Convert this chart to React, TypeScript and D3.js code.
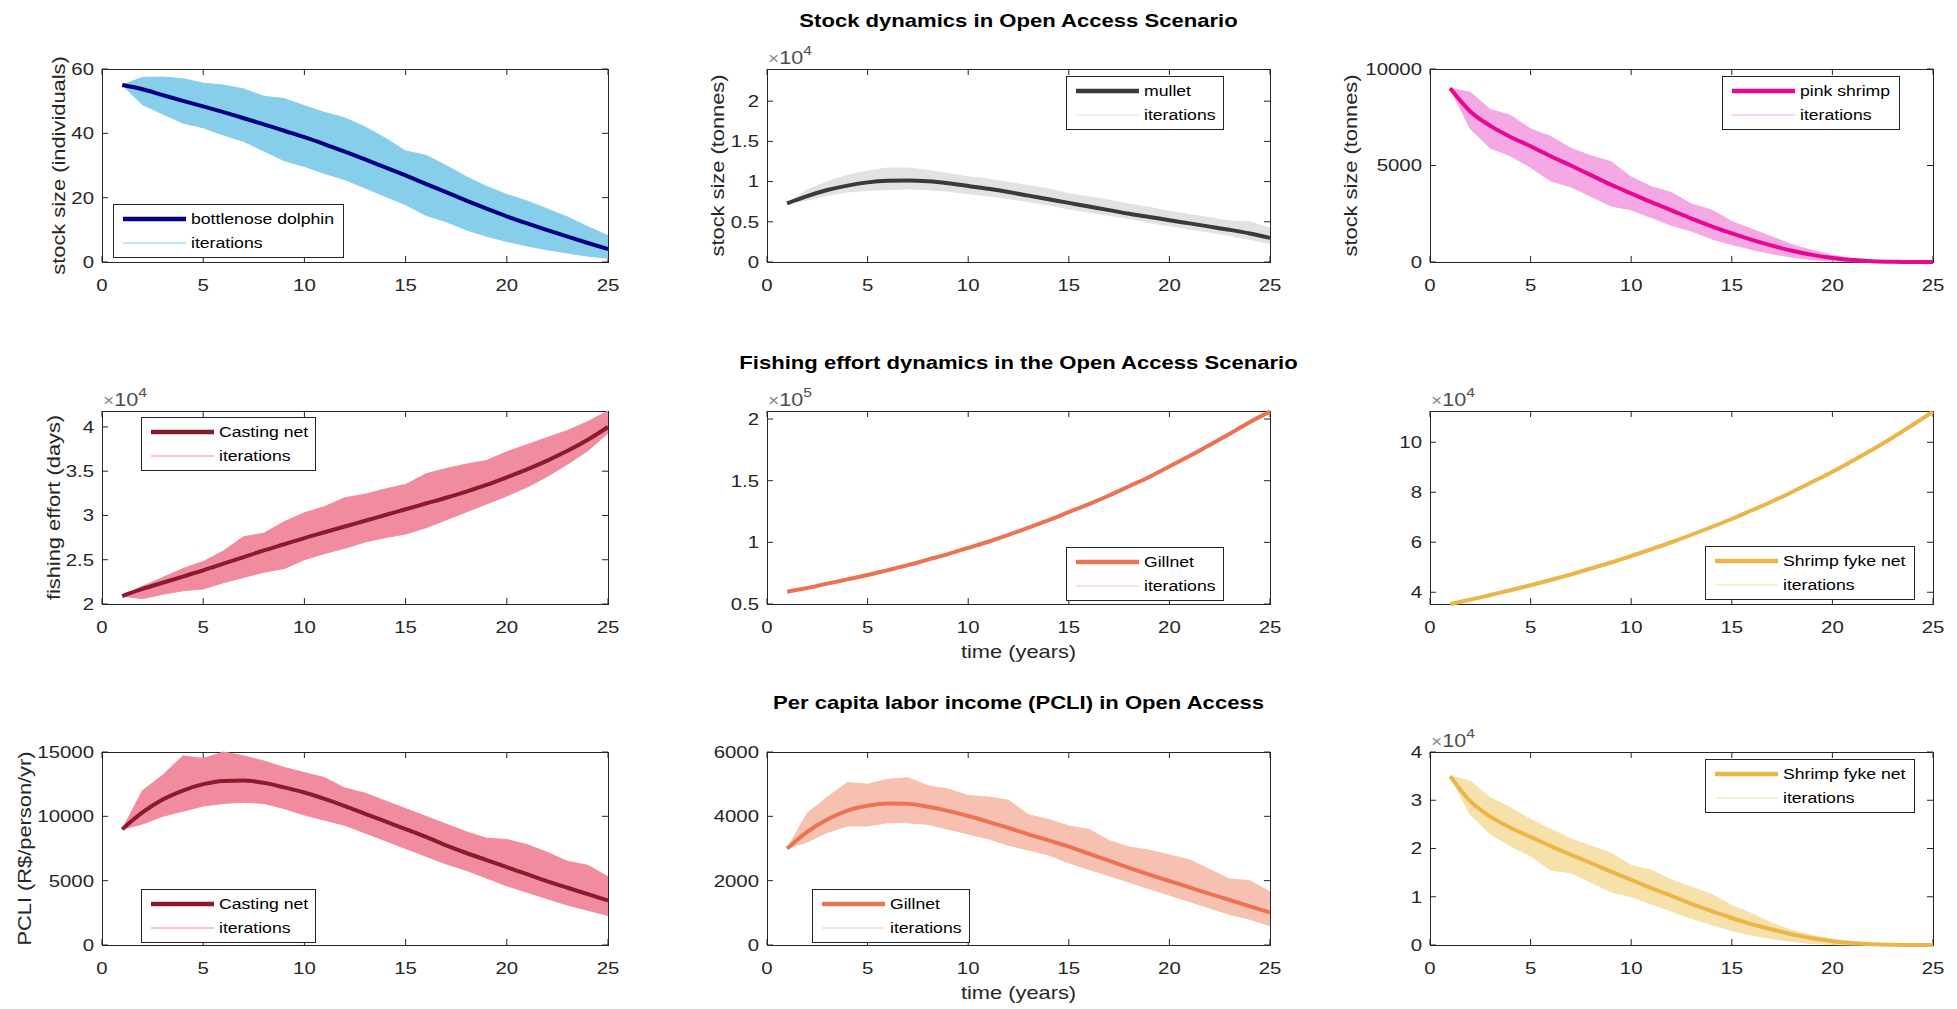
import React from 'react';
import * as d3 from 'd3';

// x values (years) and axis ticks
const YEARS = [1, 2, 3, 4, 5, 6, 7, 8, 9, 10, 11, 12, 13, 14, 15, 16, 17, 18, 19, 20, 21, 22, 23, 24, 25];
const X_TICKS = [0, 5, 10, 15, 20, 25];

// stock: bottlenose dolphin (individuals)
const DOLPHIN_MEAN = [55, 53.7, 51.9, 50.1, 48.4, 46.6, 44.7, 42.8, 40.8, 38.8, 36.6, 34.3, 31.9, 29.4, 26.9, 24.3, 21.7, 19.1, 16.6, 14.2, 12.0, 9.9, 7.9, 5.9, 4.0];
const DOLPHIN_HI = [55, 57.4, 57.5, 57.0, 55.6, 55.0, 53.8, 51.5, 50.8, 48.6, 46.5, 44.8, 42.0, 38.5, 34.5, 33.2, 30.0, 26.5, 23.5, 21.0, 19.0, 16.5, 14.0, 11.0, 8.2];
const DOLPHIN_LO = [55, 48.9, 46.0, 43.2, 41.7, 39.5, 37.5, 34.5, 31.5, 29.7, 27.5, 25.6, 23.0, 20.4, 17.8, 14.5, 12.5, 10.0, 8.0, 6.4, 5.0, 3.8, 2.8, 1.8, 1.2];

// stock: mullet (tonnes)
const MULLET_MEAN = [7300, 8200, 8950, 9500, 9900, 10100, 10150, 10050, 9800, 9450, 9100, 8700, 8250, 7800, 7350, 6900, 6450, 6000, 5600, 5200, 4800, 4400, 4000, 3550, 3000];
const MULLET_HI = [7300, 9000, 10000, 10800, 11300, 11700, 11700, 11400, 11000, 10600, 10300, 9900, 9500, 9100, 8500, 8100, 7700, 7200, 6800, 6300, 5900, 5500, 5100, 5000, 4200];
const MULLET_LO = [7300, 7700, 8300, 8700, 8900, 9000, 9100, 9000, 8800, 8500, 8200, 7900, 7500, 7100, 6600, 6200, 5800, 5400, 4900, 4500, 4100, 3700, 3300, 2800, 2300];

// stock: pink shrimp (tonnes)
const SHRIMP_MEAN = [9000, 7800, 7050, 6480, 6000, 5480, 5000, 4500, 4000, 3550, 3100, 2680, 2250, 1850, 1480, 1150, 850, 580, 370, 210, 100, 40, 10, 0, 0];
const SHRIMP_HI = [9000, 8800, 7900, 7600, 6900, 6500, 5900, 5500, 5200, 4400, 3900, 3600, 3000, 2700, 2100, 1700, 1300, 900, 600, 350, 180, 80, 30, 10, 0];
const SHRIMP_LO = [9000, 6900, 5900, 5500, 4900, 4200, 3900, 3400, 2900, 2700, 2300, 1900, 1600, 1200, 900, 650, 420, 250, 120, 50, 15, 0, 0, 0, 0];

// effort (days)
const CAST_EFFORT_MEAN = [20900, 21700, 22400, 23100, 23800, 24550, 25300, 26050, 26750, 27450, 28100, 28750, 29400, 30050, 30700, 31350, 32000, 32700, 33450, 34300, 35200, 36200, 37300, 38550, 40000];
const CAST_EFFORT_HI = [20900, 22000, 23000, 24000, 24800, 26000, 27600, 28000, 29300, 30300, 31000, 32000, 32400, 33000, 33500, 34700, 35300, 35800, 36200, 37200, 38000, 38800, 39600, 40600, 41800];
const CAST_EFFORT_LO = [20900, 20600, 21100, 21500, 21700, 22400, 23000, 23600, 24000, 25000, 25700, 26300, 27000, 27500, 27900, 28600, 29500, 30400, 31300, 32200, 33200, 34400, 35800, 37300, 39300];
const GILL_EFFORT_MEAN = [60000, 63000, 66500, 70000, 73500, 77500, 81500, 86000, 90500, 95500, 100500, 106000, 112000, 118000, 124500, 131000, 138000, 145500, 153000, 161500, 170000, 179000, 188000, 197500, 206000];
const FYKE_EFFORT_MEAN = [35300, 37000, 38900, 40800, 42800, 44900, 47100, 49500, 51900, 54500, 57200, 60000, 63000, 66100, 69300, 72800, 76300, 80100, 84100, 88200, 92600, 97100, 101900, 107000, 112200];

// per capita labor income (R$/person/yr)
const CAST_PCLI_MEAN = [9000, 10300, 11300, 12000, 12500, 12750, 12780, 12600, 12250, 11850, 11350, 10800, 10200, 9600, 9000, 8400, 7750, 7150, 6600, 6050, 5500, 4950, 4450, 3950, 3460];
const CAST_PCLI_HI = [9000, 12000, 13200, 14700, 14500, 15000, 14700, 14300, 13800, 13400, 13000, 12200, 11800, 11200, 10600, 10000, 9400, 8800, 8300, 8200, 7800, 7200, 6500, 6200, 5300];
const CAST_PCLI_LO = [9000, 9400, 10000, 10400, 10800, 11000, 11100, 11000, 10600, 10100, 9700, 9300, 8700, 8100, 7500, 6900, 6300, 5800, 5200, 4600, 4100, 3600, 3100, 2700, 2300];
const GILL_PCLI_MEAN = [3000, 3520, 3900, 4180, 4330, 4400, 4390, 4300, 4170, 4010, 3830, 3640, 3440, 3250, 3060, 2840, 2620, 2400, 2190, 1990, 1790, 1590, 1400, 1200, 1010];
const GILL_PCLI_HI = [3000, 4100, 4600, 5050, 5000, 5150, 5200, 4950, 4850, 4650, 4600, 4500, 4050, 3900, 3700, 3600, 3250, 3050, 2950, 2800, 2650, 2350, 2050, 2000, 1650];
const GILL_PCLI_LO = [3000, 3200, 3500, 3700, 3700, 3800, 3800, 3750, 3600, 3450, 3300, 3100, 2950, 2800, 2550, 2350, 2150, 1950, 1750, 1550, 1350, 1150, 950, 800, 600];
const FYKE_PCLI_MEAN = [35000, 29800, 26600, 24300, 22400, 20500, 18700, 17000, 15200, 13500, 11800, 10200, 8500, 7000, 5600, 4300, 3200, 2200, 1400, 800, 400, 150, 50, 0, 0];
const FYKE_PCLI_HI = [35000, 34000, 30500, 28500, 26000, 24000, 22000, 20500, 19000, 16500, 15500, 13500, 12000, 10500, 8200, 6500, 4500, 3000, 2000, 1200, 600, 300, 100, 0, 0];
const FYKE_PCLI_LO = [35000, 27000, 23000, 20500, 18500, 15500, 15000, 13000, 11000, 10000, 8500, 7000, 5500, 4200, 3000, 2000, 1300, 700, 300, 100, 0, 0, 0, 0, 0];

const TITLES = [
  'Stock dynamics in Open Access Scenario',
  'Fishing effort dynamics in the Open Access Scenario',
  'Per capita labor income (PCLI) in Open Access',
];

// layout
const COL_LEFT = [102, 767, 1430];
const COL_WIDTH = [506, 503, 503];
const ROW_TOP = [69, 411, 752];
const PLOT_H = 193;
const TITLE_Y = [21, 363, 703];
const K = 1.2; // the original text is drawn wider than plain Helvetica
const FONT = "'Liberation Sans', Arial, Helvetica, sans-serif";
const AXIS = '#262626';

type Panel = {
  row: number; col: number;
  yDomain: [number, number];
  yTicks: number[]; yTickLabels: string[];
  expo?: string;
  ylabel?: string; ylabelX?: number;
  xlabel?: boolean;
  mean: number[]; hi: number[]; lo: number[];
  meanColor: string; iterColor: string;
  name: string;
  legend: { dx: number; dy: number; w: number };
};

const PANELS: Panel[] = [
  { row: 0, col: 0, yDomain: [0, 60], yTicks: [0, 20, 40, 60], yTickLabels: ['0', '20', '40', '60'],
    ylabel: 'stock size (individuals)', ylabelX: 59,
    mean: DOLPHIN_MEAN, hi: DOLPHIN_HI, lo: DOLPHIN_LO, meanColor: '#000080', iterColor: '#87ceeb',
    name: 'bottlenose dolphin', legend: { dx: 11, dy: 135, w: 230 } },
  { row: 0, col: 1, yDomain: [0, 24000], yTicks: [0, 5000, 10000, 15000, 20000], yTickLabels: ['0', '0.5', '1', '1.5', '2'], expo: '4',
    ylabel: 'stock size (tonnes)', ylabelX: 718,
    mean: MULLET_MEAN, hi: MULLET_HI, lo: MULLET_LO, meanColor: '#3a3a3a', iterColor: '#e2e2e2',
    name: 'mullet', legend: { dx: 299, dy: 7, w: 157 } },
  { row: 0, col: 2, yDomain: [0, 10000], yTicks: [0, 5000, 10000], yTickLabels: ['0', '5000', '10000'],
    ylabel: 'stock size (tonnes)', ylabelX: 1351,
    mean: SHRIMP_MEAN, hi: SHRIMP_HI, lo: SHRIMP_LO, meanColor: '#e8078e', iterColor: '#f4a8e4',
    name: 'pink shrimp', legend: { dx: 292, dy: 7, w: 177 } },
  { row: 1, col: 0, yDomain: [20000, 41800], yTicks: [20000, 25000, 30000, 35000, 40000], yTickLabels: ['2', '2.5', '3', '3.5', '4'], expo: '4',
    ylabel: 'fishing effort (days)', ylabelX: 54,
    mean: CAST_EFFORT_MEAN, hi: CAST_EFFORT_HI, lo: CAST_EFFORT_LO, meanColor: '#8c1a2e', iterColor: '#f08c9e',
    name: 'Casting net', legend: { dx: 39, dy: 6, w: 174 } },
  { row: 1, col: 1, yDomain: [50000, 206500], yTicks: [50000, 100000, 150000, 200000], yTickLabels: ['0.5', '1', '1.5', '2'], expo: '5',
    xlabel: true,
    mean: GILL_EFFORT_MEAN, hi: GILL_EFFORT_MEAN, lo: GILL_EFFORT_MEAN, meanColor: '#ec7351', iterColor: '#f6c1b0',
    name: 'Gillnet', legend: { dx: 299, dy: 136, w: 157 } },
  { row: 1, col: 2, yDomain: [35300, 112500], yTicks: [40000, 60000, 80000, 100000], yTickLabels: ['4', '6', '8', '10'], expo: '4',
    mean: FYKE_EFFORT_MEAN, hi: FYKE_EFFORT_MEAN, lo: FYKE_EFFORT_MEAN, meanColor: '#ecb547', iterColor: '#f6e1ab',
    name: 'Shrimp fyke net', legend: { dx: 275, dy: 135, w: 209 } },
  { row: 2, col: 0, yDomain: [0, 15000], yTicks: [0, 5000, 10000, 15000], yTickLabels: ['0', '5000', '10000', '15000'],
    ylabel: 'PCLI (R$/person/yr)', ylabelX: 25,
    mean: CAST_PCLI_MEAN, hi: CAST_PCLI_HI, lo: CAST_PCLI_LO, meanColor: '#8c1a2e', iterColor: '#f08c9e',
    name: 'Casting net', legend: { dx: 39, dy: 137, w: 174 } },
  { row: 2, col: 1, yDomain: [0, 6000], yTicks: [0, 2000, 4000, 6000], yTickLabels: ['0', '2000', '4000', '6000'],
    xlabel: true,
    mean: GILL_PCLI_MEAN, hi: GILL_PCLI_HI, lo: GILL_PCLI_LO, meanColor: '#ec7351', iterColor: '#f6c1b0',
    name: 'Gillnet', legend: { dx: 45, dy: 137, w: 157 } },
  { row: 2, col: 2, yDomain: [0, 40000], yTicks: [0, 10000, 20000, 30000, 40000], yTickLabels: ['0', '1', '2', '3', '4'], expo: '4',
    mean: FYKE_PCLI_MEAN, hi: FYKE_PCLI_HI, lo: FYKE_PCLI_LO, meanColor: '#ecb547', iterColor: '#f6e1ab',
    name: 'Shrimp fyke net', legend: { dx: 275, dy: 7, w: 209 } },
];

function T(props: { x: number; y: number; size: number; anchor?: string; weight?: string; rot?: number; fill?: string; base?: string; children: React.ReactNode }) {
  const { x, y, size, anchor = 'start', weight = 'normal', rot = 0, fill = AXIS, base, children } = props;
  return (
    <text transform={`translate(${x},${y}) rotate(${rot}) scale(${K},1)`} fontSize={size} textAnchor={anchor}
      fontWeight={weight} fill={fill} dominantBaseline={base} fontFamily={FONT}>{children}</text>
  );
}

function Subplot({ p }: { p: Panel }) {
  const left = COL_LEFT[p.col], top = ROW_TOP[p.row], w = COL_WIDTH[p.col], h = PLOT_H;
  const x = d3.scaleLinear().domain([0, 25]).range([left, left + w]);
  const y = d3.scaleLinear().domain(p.yDomain).range([top + h, top]);
  const band = d3.area<number>().x((_, i) => x(YEARS[i])).y0((_, i) => y(p.lo[i])).y1(d => y(d));
  const line = d3.line<number>().x((_, i) => x(YEARS[i])).y(d => y(d));
  const smooth = d3.line<number>().x((_, i) => x(YEARS[i])).y(d => y(d)).curve(d3.curveMonotoneX);
  const tk = 6;
  const lg = p.legend;
  const lx = left + lg.dx, ly = top + lg.dy;
  return (
    <g>
      <rect x={left + 0.5} y={top + 0.5} width={w} height={h} fill="#fff" stroke={AXIS} strokeWidth={1} />
      {X_TICKS.map(t => (
        <g key={'x' + t}>
          <line x1={x(t)} x2={x(t)} y1={top + h} y2={top + h - tk} stroke={AXIS} />
          <line x1={x(t)} x2={x(t)} y1={top} y2={top + tk} stroke={AXIS} />
          <T x={x(t)} y={top + h + 29} size={17} anchor="middle">{String(t)}</T>
        </g>
      ))}
      {p.yTicks.map((t, i) => (
        <g key={'y' + t}>
          <line x1={left} x2={left + tk} y1={y(t)} y2={y(t)} stroke={AXIS} />
          <line x1={left + w} x2={left + w - tk} y1={y(t)} y2={y(t)} stroke={AXIS} />
          <T x={left - 8} y={y(t)} size={17} anchor="end" base="central">{p.yTickLabels[i]}</T>
        </g>
      ))}
      {p.expo && (
        <T x={left + 1} y={top - 5} size={18} fill="#4d4d4d">
          <tspan fill="#8a8a8a" fontSize={16}>×</tspan>
          <tspan>10</tspan>
          <tspan dy={-9} fontSize={13}>{p.expo}</tspan>
        </T>
      )}
      {p.ylabel && (
        <T x={p.ylabelX!} y={top + h / 2} size={18.2} anchor="middle" rot={-90} base="central">{p.ylabel}</T>
      )}
      {p.xlabel && (
        <T x={left + w / 2} y={top + h + 54} size={18.2} anchor="middle">time (years)</T>
      )}
      <path d={band(p.hi) || ''} fill={p.iterColor} stroke="none" />
      <path d={line(p.hi) || ''} fill="none" stroke={p.iterColor} strokeWidth={1} />
      <path d={line(p.lo) || ''} fill="none" stroke={p.iterColor} strokeWidth={1} />
      <path d={smooth(p.mean) || ''} fill="none" stroke={p.meanColor} strokeWidth={4} strokeLinejoin="round" />
      <g>
        <rect x={lx + 0.5} y={ly + 0.5} width={lg.w} height={53} fill="#fff" stroke={AXIS} strokeWidth={1} />
        <line x1={lx + 10} x2={lx + 73} y1={ly + 15} y2={ly + 15} stroke={p.meanColor} strokeWidth={4.5} />
        <line x1={lx + 10} x2={lx + 73} y1={ly + 39} y2={ly + 39} stroke={p.iterColor} strokeWidth={1} />
        <T x={lx + 78} y={ly + 15} size={14.7} base="central" fill="#000">{p.name}</T>
        <T x={lx + 78} y={ly + 39} size={14.7} base="central" fill="#000">iterations</T>
      </g>
    </g>
  );
}

export default function App() {
  const titleX = COL_LEFT[1] + COL_WIDTH[1] / 2;
  return (
    <svg width={1957} height={1009} style={{ position: 'absolute', left: 0, top: 0, display: 'block', background: '#fff' }}>
      <rect width={1957} height={1009} fill="#fff" />
      {TITLES.map((t, i) => (
        <T key={t} x={titleX} y={TITLE_Y[i]} size={18.4} weight="bold" anchor="middle" base="central" fill="#000">{t}</T>
      ))}
      {PANELS.map((p, i) => <Subplot key={i} p={p} />)}
    </svg>
  );
}
